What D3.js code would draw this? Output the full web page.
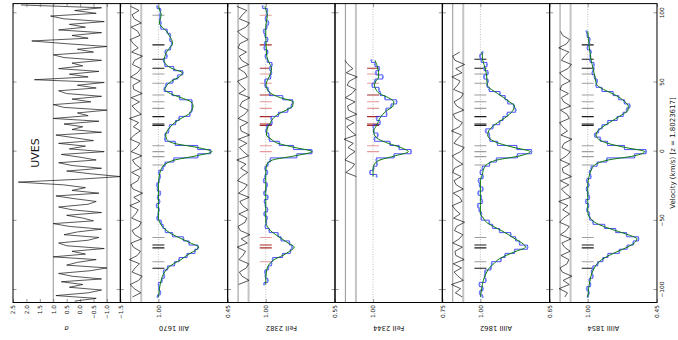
<!DOCTYPE html>
<html>
<head>
<meta charset="utf-8">
<script src="https://cdn.jsdelivr.net/npm/d3@7"></script>
<style>
  body { margin: 0; background: #fff; user-select: none; }
  svg { display: block; }
  text { font-family: "DejaVu Sans", sans-serif; }
</style>
</head>
<body>
<div id="chart"></div>
<script>
// velocity grid of the spectra (km/s), 3 km/s pixels
const velGrid = [-105,-102,-99,-96,-93,-90,-87,-84,-81,-78,-75,-72,-69,-66,-63,-60,-57,-54,-51,-48,
  -45,-42,-39,-36,-33,-30,-27,-24,-21,-18,-15,-12,-9,-6,-3,0,3,6,9,12,
  15,18,21,24,27,30,33,36,39,42,45,48,51,54,57,60,63,66,69,72,
  75,78,81,84,87,90,93,96,99,102,105];

// AlII 1670
const alII1670Data = [1.007,0.985,0.996,0.999,0.972,0.954,0.959,0.927,0.872,0.835,
  0.772,0.710,0.686,0.756,0.802,0.888,0.944,0.963,0.978,1.010,
  1.001,0.995,1.014,0.991,1.005,0.985,1.007,1.012,0.994,0.986,
  0.997,0.964,0.947,0.878,0.687,0.586,0.688,0.866,0.948,0.946,
  0.920,0.911,0.864,0.835,0.750,0.735,0.734,0.734,0.831,0.891,
  0.953,0.940,0.885,0.847,0.807,0.879,0.948,0.958,0.933,0.945,
  0.905,0.894,0.908,0.906,0.931,0.981,0.981,0.989,0.987,0.983,1.010];
const alII1670Model = [0.999,0.996,0.992,0.986,0.978,0.968,0.950,0.925,0.880,0.820,
  0.775,0.720,0.680,0.745,0.815,0.885,0.935,0.970,0.990,1.000,
  1.000,1.000,1.000,1.000,1.000,1.000,1.000,1.000,0.998,0.994,
  0.987,0.975,0.945,0.870,0.700,0.575,0.690,0.875,0.935,0.942,
  0.930,0.905,0.870,0.820,0.762,0.735,0.725,0.742,0.820,0.905,
  0.948,0.933,0.895,0.835,0.810,0.890,0.940,0.955,0.948,0.935,
  0.910,0.888,0.895,0.915,0.935,0.970,0.993,0.985,0.978,0.990,0.998];

// FeII 2382
const feII2382Data = [null,null,null,1.011,0.987,1.002,1.005,0.983,0.963,0.955,
  0.891,0.840,0.829,0.846,0.900,0.920,0.977,1.002,0.996,0.992,
  1.010,0.989,1.002,1.008,0.987,1.011,0.998,0.991,1.013,1.004,
  0.990,1.004,0.986,0.970,0.798,0.700,0.819,0.912,0.976,0.981,
  0.998,0.992,0.960,0.964,0.917,0.857,0.833,0.825,0.890,0.975,
  0.985,1.004,1.005,0.969,0.964,0.973,0.960,0.989,1.002,0.988,
  1.009,1.006,0.988,1.004,1.013,0.994,0.983,1.001,0.992,0.990,1.020];
const feII2382Model = [null,null,null,1.000,1.000,0.999,0.996,0.990,0.975,0.945,
  0.890,0.845,0.815,0.855,0.895,0.935,0.970,0.990,1.000,1.000,
  1.000,1.000,1.000,1.000,1.000,1.000,1.000,1.000,1.000,1.000,
  1.000,0.998,0.992,0.955,0.810,0.700,0.810,0.920,0.965,0.995,
  0.993,0.985,0.970,0.952,0.920,0.868,0.825,0.822,0.905,0.965,
  0.990,0.998,0.992,0.978,0.968,0.962,0.972,0.985,0.993,0.995,
  0.997,0.998,0.999,1.000,1.000,1.000,0.997,0.992,0.990,0.998,1.005];

// FeII 2344 (short stretch only)
const feII2344Data = [null,null,null,null,null,null,null,null,null,null,
  null,null,null,null,null,null,null,null,null,null,
  null,null,null,null,null,null,null,null,null,0.987,
  1.011,0.998,0.986,0.988,0.924,0.863,0.906,0.939,0.995,0.983,
  0.998,0.999,0.975,0.987,0.951,0.953,0.935,0.915,0.957,0.974,
  0.979,1.003,0.993,0.965,0.990,0.978,0.993,1.006,null,null,
  null,null,null,null,null,null,null,null,null,null,null];
const feII2344Model = [null,null,null,null,null,null,null,null,null,null,
  null,null,null,null,null,null,null,null,null,null,
  null,null,null,null,null,null,null,null,null,1.000,
  1.000,1.000,0.995,0.975,0.920,0.873,0.900,0.945,0.980,0.995,
  0.998,0.990,0.983,0.976,0.965,0.948,0.928,0.925,0.945,0.977,
  0.990,0.995,0.990,0.980,0.980,0.983,0.987,0.993,null,null,
  null,null,null,null,null,null,null,null,null,null,null];

// AlIII 1862
const alIII1862Data = [0.989,1.003,0.988,1.005,0.973,0.978,0.977,0.947,0.943,0.896,
  0.875,0.827,0.762,0.802,0.822,0.847,0.903,0.938,0.955,0.995,
  0.995,1.006,1.013,0.991,0.996,1.011,0.988,1.004,1.009,0.987,
  1.000,0.990,0.954,0.919,0.813,0.742,0.816,0.914,0.952,0.955,
  0.973,0.937,0.903,0.886,0.864,0.822,0.831,0.862,0.875,0.901,
  0.955,0.966,0.962,0.982,0.962,0.981,0.967,0.995,1.002,0.989,
  null,null,null,null,null,null,null,null,null,null,null];
const alIII1862Model = [0.999,0.997,0.994,0.990,0.985,0.978,0.968,0.955,0.932,0.910,
  0.870,0.820,0.772,0.790,0.825,0.858,0.895,0.935,0.970,0.985,
  1.000,1.000,1.000,1.000,1.000,1.000,1.000,1.000,1.000,0.994,
  0.988,0.982,0.965,0.915,0.800,0.748,0.830,0.905,0.950,0.963,
  0.958,0.940,0.913,0.880,0.853,0.835,0.828,0.853,0.882,0.913,
  0.945,0.965,0.967,0.968,0.971,0.976,0.982,0.988,0.990,0.993,
  null,null,null,null,null,null,null,null,null,null,null];

// AlIII 1854
const alIII1854Data = [1.000,0.991,1.007,0.979,0.987,0.960,0.970,0.959,0.921,0.880,
  0.840,0.749,0.687,0.638,0.597,0.691,0.778,0.866,0.958,0.984,
  0.988,1.006,0.994,1.015,0.988,1.000,1.009,0.992,1.007,0.976,
  0.985,0.972,0.925,0.848,0.627,0.537,0.708,0.843,0.900,0.944,
  0.915,0.886,0.841,0.766,0.718,0.691,0.666,0.709,0.754,0.798,
  0.887,0.933,0.926,0.946,0.963,0.952,0.951,0.981,0.980,0.975,
  1.002,0.987,0.984,1.003,1.010,null,null,null,null,null,null];
const alIII1854Model = [0.999,0.996,0.993,0.988,0.982,0.975,0.963,0.947,0.925,0.888,
  0.830,0.760,0.685,0.630,0.610,0.680,0.780,0.875,0.945,0.980,
  0.998,1.000,1.000,1.000,1.000,1.000,1.000,1.000,0.996,0.990,
  0.980,0.965,0.935,0.836,0.630,0.548,0.700,0.840,0.915,0.934,
  0.920,0.880,0.828,0.775,0.722,0.680,0.678,0.705,0.745,0.805,
  0.875,0.925,0.937,0.942,0.950,0.958,0.965,0.972,0.978,0.983,
  0.987,0.990,0.994,0.997,0.999,null,null,null,null,null,null];

// combined UVES residuals (sigma), 2 km/s grid
const sigVel = [-108,-106,-104,-102,-100,-98,-96,-94,-92,-90,-88,-86,-84,-82,-80,-78,-76,-74,-72,-70,
  -68,-66,-64,-62,-60,-58,-56,-54,-52,-50,-48,-46,-44,-42,-40,-38,-36,-34,-32,-30,
  -28,-26,-24,-22,-20,-18,-16,-14,-12,-10,-8,-6,-4,-2,0,2,4,6,8,10,
  12,14,16,18,20,22,24,26,28,30,32,34,36,38,40,42,44,46,48,50,
  52,54,56,58,60,62,64,66,68,70,72,74,76,78,80,82,84,86,88,90,
  92,94,96,98,100,102,104,106];
const sigResid = [0.2,-0.6,0.9,-0.3,-0.8,0.4,-0.1,0.7,-0.8,0.3,
  0.8,-0.4,-1.0,0.5,0.1,-0.6,1.0,-0.2,0.3,-0.9,
  0.5,0.8,-0.3,-0.7,0.6,0.1,-0.8,0.4,1.0,-0.5,
  -0.1,0.5,-0.8,0.3,0.8,-0.3,-0.6,0.2,0.9,-0.7,
  0.3,-0.2,0.6,2.3,0.1,-1.5,-0.4,0.5,-0.8,0.3,
  0.8,-0.6,0.0,0.7,-0.9,0.4,-0.2,0.8,-0.5,0.2,
  0.9,-0.8,0.3,-0.1,0.6,-0.7,1.0,-0.3,0.1,-1.0,
  0.6,1.0,-0.4,0.3,-0.8,0.5,0.8,-0.6,0.1,-0.9,
  1.7,-0.3,0.4,-0.7,0.8,-0.1,0.3,-0.8,0.6,1.0,
  -0.5,0.1,-1.0,0.5,1.8,-0.3,0.3,-0.8,0.8,-0.2,
  0.4,-0.9,0.6,1.1,-0.6,0.2,-0.8,2.2];

// fitted components (km/s); "d" dark tick, "l" light tick
const alCompVel = [-84.3,-79.5,-69.5,-67.5,-62,-9.6,-3.6,0,4.3,19,20,25.3,31.3,36.1,41,49.4,56.1,60.3,66.8,77.2,98.6];
const alCompTone = ["d","l","d","d","l","l","l","l","l","d","d","d","l","l","l","l","l","d","d","d","l"];
const feCompVel = [-79.5,-69.5,-67.5,-62,0,4.3,19,20,25.3,31.3,36.1,41,49.4,56.1,60.3,77.2,98.6];
const feCompTone = ["l","d","d","l","l","l","d","d","d","l","l","d","l","l","d","d","l"];

const ionNames = ["AlII 1670", "FeII 2382", "FeII 2344", "AlIII 1862", "AlIII 1854"];
const fluxFloor = [0.45, 0.55, 0.75, 0.65, 0.45];
const ionFamily = ["al", "fe", "fe", "al", "al"];
const fluxData = [alII1670Data, feII2382Data, feII2344Data, alIII1862Data, alIII1854Data];
const fluxModel = [alII1670Model, feII2382Model, feII2344Model, alIII1862Model, alIII1854Model];
const fluxErr = 0.012;

const velTicks = [-100, -50, 0, 50, 100];
const sigTicks = [-1.5, -1.0, -0.5, 0.0, 0.5, 1.0, 1.5, 2.0, 2.5];

// ---- layout: the figure is built upright (340 wide, 678 tall) and turned a quarter left
const W = 678, H = 340;
const plotL = 37.5, plotR = 336.4, plotT = 13, panelH = 107.33;

const x = d3.scaleLinear().domain([-109, 107]).range([plotL, plotR]);

const svg = d3.select("#chart").append("svg")
  .attr("width", W)
  .attr("height", H);
svg.append("rect").attr("width", W).attr("height", H).attr("fill", "#fff");

const defs = svg.append("defs");

const fig = svg.append("g")
  .attr("transform", `translate(0,${H}) rotate(-90)`);

function clipFor(id, y0) {
  defs.append("clipPath").attr("id", id)
    .append("rect")
    .attr("x", plotL).attr("y", y0)
    .attr("width", plotR - plotL).attr("height", panelH);
  return `url(#${id})`;
}

function hline(g, y, val, color, width, dash) {
  g.append("line")
    .attr("x1", plotL).attr("x2", plotR)
    .attr("y1", y(val)).attr("y2", y(val))
    .attr("stroke", color)
    .attr("stroke-width", width)
    .attr("stroke-dasharray", dash || null);
}

function drawAxes(g, y, yTicks, fmt, withVelLabels) {
  const y0 = y.range()[1], y1 = y.range()[0];
  const noLabel = () => "";
  g.append("g").attr("class", "ax")
    .attr("transform", `translate(0,${y1})`)
    .call(d3.axisBottom(x).tickValues(velTicks).tickSizeInner(-3.5).tickSizeOuter(0)
      .tickPadding(2.5).tickFormat(withVelLabels ? d3.format("d") : noLabel));
  g.append("g").attr("class", "ax")
    .attr("transform", `translate(0,${y0})`)
    .call(d3.axisTop(x).tickValues(velTicks).tickSizeInner(-3.5).tickSizeOuter(0).tickFormat(noLabel));
  g.append("g").attr("class", "ax")
    .attr("transform", `translate(${plotL},0)`)
    .call(d3.axisLeft(y).tickValues(yTicks).tickSizeInner(-3.5).tickSizeOuter(0)
      .tickPadding(2.5).tickFormat(fmt));
  g.append("g").attr("class", "ax")
    .attr("transform", `translate(${plotR},0)`)
    .call(d3.axisRight(y).tickValues(yTicks).tickSizeInner(-3.5).tickSizeOuter(0).tickFormat(noLabel));

  g.selectAll(".ax .domain").remove();
  g.selectAll(".ax line").attr("stroke", "#555").attr("stroke-width", 0.6);
  g.selectAll(".ax text")
    .attr("font-size", 5.8)
    .attr("fill", "#222")
    .attr("font-family", "DejaVu Sans, sans-serif");

  g.append("rect")
    .attr("x", plotL).attr("y", y0)
    .attr("width", plotR - plotL).attr("height", panelH)
    .attr("fill", "none")
    .attr("stroke", "#000")
    .attr("stroke-width", 1);
}

function sideLabel(g, txt, cy) {
  g.append("text")
    .attr("transform", `translate(14,${cy}) rotate(-90)`)
    .attr("text-anchor", "middle")
    .attr("font-size", 6.8)
    .attr("fill", "#111")
    .text(txt);
}

// ---- UVES sigma panel
{
  const g = fig.append("g");
  const y = d3.scaleLinear().domain([-1.5, 2.5]).range([plotT + panelH, plotT]);
  const inner = g.append("g").attr("clip-path", clipFor("clip-sig", plotT));

  hline(inner, y, 1, "#7a7a7a", 0.8);
  hline(inner, y, -1, "#c4c4c4", 2);

  inner.append("path")
    .datum(sigVel.map((v, i) => [v, sigResid[i]]))
    .attr("fill", "none")
    .attr("stroke", "#111")
    .attr("stroke-width", 0.7)
    .attr("d", d3.line().x(d => x(d[0])).y(d => y(d[1])));

  drawAxes(g, y, sigTicks, d3.format(".1f"), false);
  sideLabel(g, "σ", plotT + panelH / 2);

  g.append("text")
    .attr("x", (plotL + plotR) / 2)
    .attr("y", 39)
    .attr("text-anchor", "middle")
    .attr("font-size", 11)
    .attr("fill", "#111")
    .text("UVES");
}

// ---- one panel per transition
ionNames.forEach((ion, k) => {
  const b = fluxFloor[k];
  const y0 = plotT + (k + 1) * panelH;
  const y = d3.scaleLinear().domain([b, 1 + 0.55 * (1 - b)]).range([y0 + panelH, y0]);
  const span = 1.55 * (1 - b);
  const resMid = 1 + 0.55 * (1 - b) - 0.146 * span;
  const resUnit = 0.049 * span;

  const pts = velGrid.map((v, i) => ({v: v, f: fluxData[k][i], m: fluxModel[k][i]}))
    .filter(d => d.f != null);
  const vMin = d3.min(pts, d => d.v) - 1.5, vMax = d3.max(pts, d => d.v) + 1.5;

  const g = fig.append("g");
  const inner = g.append("g").attr("clip-path", clipFor("clip-" + k, y0));

  // residual strip
  hline(inner, y, resMid + resUnit, "#7a7a7a", 0.8);
  hline(inner, y, resMid - resUnit, "#c4c4c4", 2);
  inner.append("path")
    .datum(pts)
    .attr("fill", "none")
    .attr("stroke", "#111")
    .attr("stroke-width", 0.7)
    .attr("d", d3.line().x(d => x(d.v)).y(d => y(resMid + resUnit * (d.f - d.m) / fluxErr)));

  // continuum
  hline(inner, y, 1, "#999", 0.6, "1,1.5");

  // component ticks
  const fe = ionFamily[k] === "fe";
  const cv = fe ? feCompVel : alCompVel;
  const ct = fe ? feCompTone : alCompTone;
  const dark = fe ? "#a82a2a" : "#1a1a1a";
  const light = fe ? "#e49a9a" : "#9e9e9e";
  inner.selectAll(".comp")
    .data(cv.map((v, i) => ({v: v, t: ct[i]})).filter(c => c.v >= vMin && c.v <= vMax))
    .enter().append("line")
    .attr("class", "comp")
    .attr("x1", d => x(d.v)).attr("x2", d => x(d.v))
    .attr("y1", y(1) - 6).attr("y2", y(1) + 6)
    .attr("stroke", d => d.t === "d" ? dark : light)
    .attr("stroke-width", 1.1);

  // data
  inner.append("path")
    .datum(pts)
    .attr("fill", "none")
    .attr("stroke", "#2424ff")
    .attr("stroke-width", 0.8)
    .attr("d", d3.line().curve(d3.curveStep).x(d => x(d.v)).y(d => y(d.f)));
  inner.selectAll(".pt")
    .data(pts)
    .enter().append("circle")
    .attr("class", "pt")
    .attr("cx", d => x(d.v))
    .attr("cy", d => y(d.f))
    .attr("r", 1.1)
    .attr("fill", "#6f86ff");

  // model
  inner.append("path")
    .datum(pts)
    .attr("fill", "none")
    .attr("stroke", "#0a7a0a")
    .attr("stroke-width", 1)
    .attr("d", d3.line().curve(d3.curveMonotoneX).x(d => x(d.v)).y(d => y(d.m)));

  drawAxes(g, y, [b, 1.0], d3.format(".2f"), k === ionNames.length - 1);
  sideLabel(g, ion, y0 + panelH / 2);
});

// velocity axis title
fig.append("text")
  .attr("x", (plotL + plotR) / 2)
  .attr("y", plotT + 6 * panelH + 18)
  .attr("text-anchor", "middle")
  .attr("font-size", 7)
  .attr("fill", "#111")
  .text("Velocity (km/s) [z = 1.8023617]");
</script>
</body>
</html>
